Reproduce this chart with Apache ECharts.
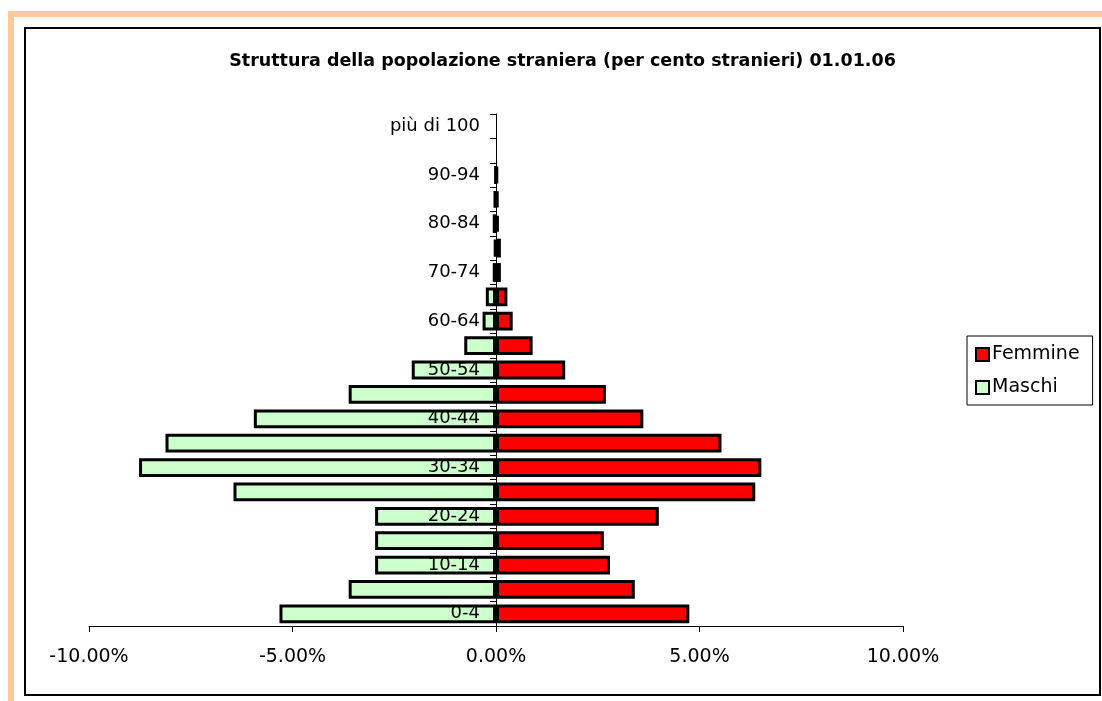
<!DOCTYPE html>
<html>
<head>
<meta charset="utf-8">
<title>Struttura della popolazione straniera</title>
<script src="https://cdn.jsdelivr.net/npm/echarts@6/dist/echarts.min.js"></script>
<style>
  html, body { margin: 0; padding: 0; background: #ffffff; }
  #chart { width: 1102px; height: 701px; }
</style>
</head>
<body>
<div id="chart"></div>
<script>
// Age classes, bottom to top
const categories = ['0-4', '5-9', '10-14', '15-19', '20-24', '25-29', '30-34', '35-39',
  '40-44', '45-49', '50-54', '55-59', '60-64', '65-69', '70-74', '75-79', '80-84',
  '85-89', '90-94', '95-99', 'più di 100'];

// Share of foreign residents per age class (%); males plotted to the left
const femmine = [4.75, 3.41, 2.80, 2.65, 4.00, 6.37, 6.52, 5.54, 3.62, 2.70, 1.70,
  0.90, 0.41, 0.28, 0.12, 0.12, 0.07, 0.06, 0.04, 0, 0];
const maschi = [-5.32, -3.62, -2.97, -2.97, -2.97, -6.45, -8.77, -8.12, -5.95, -3.62, -2.07,
  -0.78, -0.33, -0.25, -0.08, -0.04, -0.08, -0.05, -0.02, 0, 0];

const xTicks = { min: -10, max: 10, step: 5 };

const FONT = 'DejaVu Sans';
const TITLE = 'Struttura della popolazione straniera (per cento stranieri) 01.01.06';
const TITLE_FONT = 'bold 17.5px "DejaVu Sans"';

// plot area
const GRID = { left: 89, right: 199, top: 114, bottom: 75 };
const WIDTH = 1102;

// the category axis sits on the zero line of the value axis
const plotW = WIDTH - GRID.left - GRID.right;
const zeroOffset = (0 - xTicks.min) / (xTicks.max - xTicks.min) * plotW;

// centre the title inside the framed area
const frame = { x: 25, y: 28, w: 1075, h: 667 };
const ctx = document.createElement('canvas').getContext('2d');
ctx.font = TITLE_FONT;
const titleW = ctx.measureText(TITLE).width;
const titleLeft = frame.x + frame.w / 2 - titleW / 2 - 5;

// empty classes get no outline
function toItems(arr) {
  return arr.map(v => v === 0 ? { value: v, itemStyle: { borderWidth: 0 } } : v);
}

const chart = echarts.init(document.getElementById('chart'), null, { renderer: 'canvas' });

chart.setOption({
  backgroundColor: '#ffffff',
  animation: false,
  graphic: [
    { type: 'rect', shape: { x: 8, y: 11, width: 1094, height: 6 }, style: { fill: '#FFCC99' }, silent: true },
    { type: 'rect', shape: { x: 8, y: 11, width: 6, height: 690 }, style: { fill: '#FFCC99' }, silent: true },
    { type: 'rect', shape: { x: frame.x, y: frame.y, width: frame.w, height: frame.h },
      style: { fill: 'none', stroke: '#000000', lineWidth: 2 }, silent: true }
  ],
  title: {
    text: TITLE,
    left: titleLeft,
    top: 47,
    textStyle: { fontFamily: FONT, fontWeight: 'bold', fontSize: 17.5, color: '#000000' }
  },
  legend: {
    data: ['Femmine', 'Maschi'],
    orient: 'vertical',
    left: 967,
    top: 336,
    padding: [9, 13, 8, 8],
    itemGap: 14,
    itemWidth: 13,
    itemHeight: 13,
    icon: 'rect',
    borderColor: '#000000',
    borderWidth: 1,
    textStyle: { fontFamily: FONT, fontSize: 19, color: '#000000', padding: [0, 0, 0, -2] }
  },
  grid: {
    left: GRID.left, right: GRID.right, top: GRID.top, bottom: GRID.bottom,
    containLabel: false,
    outerBoundsMode: 'none'
  },
  xAxis: {
    type: 'value',
    min: xTicks.min,
    max: xTicks.max,
    interval: xTicks.step,
    axisLine: { show: true, onZero: false, lineStyle: { color: '#000000', width: 1 } },
    axisTick: { show: true, length: 6, lineStyle: { color: '#000000' } },
    splitLine: { show: false },
    axisLabel: {
      margin: 22,
      fontFamily: FONT,
      fontSize: 19,
      color: '#000000',
      formatter: v => v.toFixed(2) + '%'
    }
  },
  yAxis: {
    type: 'category',
    data: categories,
    position: 'left',
    offset: -zeroOffset,
    z: 10,
    axisLine: { show: true, onZero: false, lineStyle: { color: '#000000', width: 1 } },
    axisTick: { show: true, interval: 0, length: 6, lineStyle: { color: '#000000' } },
    axisLabel: {
      interval: 1,
      margin: 16,
      fontFamily: FONT,
      fontSize: 18,
      color: '#000000'
    },
    splitLine: { show: false }
  },
  series: [
    {
      name: 'Femmine',
      type: 'bar',
      stack: 'popolazione',
      barWidth: '77%',
      data: toItems(femmine),
      itemStyle: { color: '#FF0000', borderColor: '#000000', borderWidth: 3 }
    },
    {
      name: 'Maschi',
      type: 'bar',
      stack: 'popolazione',
      barWidth: '77%',
      data: toItems(maschi),
      itemStyle: { color: '#CCFFCC', borderColor: '#000000', borderWidth: 3 }
    }
  ]
});
</script>
</body>
</html>
